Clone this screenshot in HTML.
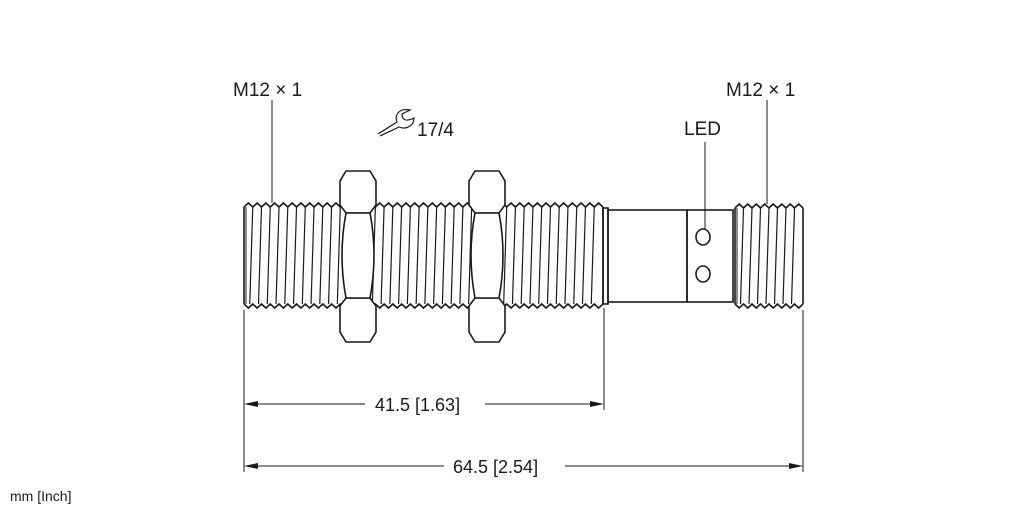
<!DOCTYPE html>
<html><head><meta charset="utf-8"><style>
html,body{margin:0;padding:0;background:#fff;width:1022px;height:511px;overflow:hidden}
text{font-family:"Liberation Sans",sans-serif;fill:#1a1a1a}
</style></head><body>
<svg id="s" width="1022" height="511" viewBox="0 0 1022 511" xmlns="http://www.w3.org/2000/svg" fill="none" stroke="#1a1a1a" stroke-width="1.6">
<g id="th"></g>
<rect x="603" y="208" width="5" height="96"/>
<rect x="608" y="210" width="79" height="92"/>
<rect x="687" y="210" width="46" height="92"/>
<ellipse cx="703" cy="237" rx="7" ry="8"/>
<ellipse cx="703" cy="274" rx="7" ry="8"/>
<g id="nuts"></g>
<g stroke-width="1">
<line x1="272" y1="100" x2="272" y2="203"/>
<line x1="767" y1="100" x2="767" y2="204"/>
<line x1="705" y1="142" x2="705" y2="230"/>
<line x1="244" y1="310" x2="244" y2="472"/>
<line x1="604" y1="308" x2="604" y2="410"/>
<line x1="803" y1="310" x2="803" y2="472"/>
<line x1="246" y1="404" x2="365" y2="404"/>
<line x1="485" y1="404" x2="602" y2="404"/>
<line x1="246" y1="466" x2="444" y2="466"/>
<line x1="565" y1="466" x2="801" y2="466"/>
</g>
<g fill="#1a1a1a" stroke="none">
<path d="M244 404 l14 -3 v6z"/><path d="M604 404 l-14 -3 v6z"/>
<path d="M244 466 l14 -3 v6z"/><path d="M803 466 l-14 -3 v6z"/>
</g>
<path d="M378 134 L397 122 C394 114 400 108 410 110 L402 114 C402 120 406 122 414 118 C414 126 406 130 399 127 L380 136" stroke-width="1.2"/>
<g stroke="none">
<text x="233" y="96" font-size="19">M12 × 1</text>
<text x="726" y="96" font-size="19">M12 × 1</text>
<text x="684" y="135" font-size="19">LED</text>
<text x="417" y="136" font-size="19">17/4</text>
<text x="375" y="411" font-size="18">41.5 [1.63]</text>
<text x="453" y="473" font-size="18">64.5 [2.54]</text>
<text x="10" y="501" font-size="14">mm [Inch]</text>
</g>
</svg>
<script>
var NS="http://www.w3.org/2000/svg",th=document.getElementById('th');
function el(t,a,p){var e=document.createElementNS(NS,t);for(var k in a)e.setAttribute(k,a[k]);(p||th).appendChild(e);return e;}
function thread(x0,x1,yt,yb){
  var p=(x1-x0)/Math.round((x1-x0)/8.8),d="M"+x0+" "+(yt+4);
  for(var x=x0;x<x1-1;x+=p){d+=" L"+(x+p/2)+" "+(yt)+" L"+(x+p)+" "+(yt+4);}
  el('path',{d:d});
  d="M"+x0+" "+(yb-4);
  for(var x=x0;x<x1-1;x+=p){d+=" L"+(x+p/2)+" "+(yb)+" L"+(x+p)+" "+(yb-4);}
  el('path',{d:d});
  for(var x=x0+p;x<x1-2;x+=p){el('line',{x1:x,y1:yt+4,x2:x-3,y2:yb-4,'stroke-width':1.2});}
  el('line',{x1:x0,y1:yt+4,x2:x0,y2:yb-4});
  el('line',{x1:x0+2,y1:yt+4,x2:x0+2,y2:yb-4,'stroke-width':1});
  el('line',{x1:x1,y1:yt+4,x2:x1,y2:yb-4});
}
thread(244,603,203,308);
thread(735,803,204,308);
var ng=document.getElementById('nuts');
function nut(x0,x1){
  var c=6;
  el('path',{d:"M"+(x0+c)+" 171 L"+(x1-c)+" 171 L"+x1+" 181 L"+x1+" 205 L"+(x1-c)+" 213 L"+(x0+c)+" 213 L"+x0+" 205 L"+x0+" 181 Z",fill:"#fff"},ng);
  el('path',{d:"M"+(x0+c)+" 298 L"+(x1-c)+" 298 L"+x1+" 306 L"+x1+" 332 L"+(x1-c)+" 342 L"+(x0+c)+" 342 L"+x0+" 332 L"+x0+" 306 Z",fill:"#fff"},ng);
  el('path',{d:"M"+(x0+c)+" 213 Q"+(x0-2)+" 255 "+(x0+c)+" 298 L"+(x1-c)+" 298 Q"+(x1+2)+" 255 "+(x1-c)+" 213 Z",fill:"#fff"},ng);
}
nut(340,376);nut(469,505);
</script>
</body></html>
